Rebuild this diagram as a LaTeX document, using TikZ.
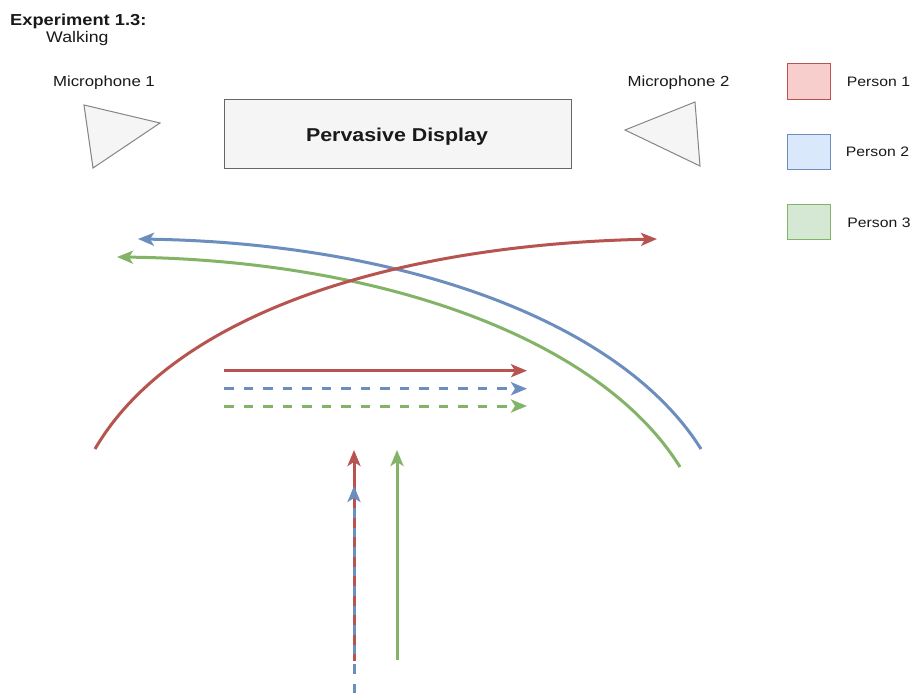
\documentclass[tikz,border=0pt]{standalone}
\usepackage{fontspec}
\setmainfont{Liberation Sans}[FakeStretch=1.15]
\usetikzlibrary{arrows.meta}

\definecolor{pRed}{HTML}{B85450}
\definecolor{pRedFill}{HTML}{F8CECC}
\definecolor{pBlue}{HTML}{6C8EBF}
\definecolor{pBlueFill}{HTML}{DAE8FC}
\definecolor{pGreen}{HTML}{82B366}
\definecolor{pGreenFill}{HTML}{D5E8D4}
\definecolor{devFill}{HTML}{F5F5F5}
\definecolor{devLine}{HTML}{666666}

\tikzset{
  lbl/.style={inner sep=0pt, text=black!90},
  micshape/.style={draw=devLine!80, fill=devFill, line width=1pt, line join=miter},
  legendbox/.style={draw=#1, fill=#1Fill, line width=1pt, minimum width=43pt, minimum height=35pt, inner sep=0pt},
  path arrow/.style={draw=#1, line width=3pt,
    -{Stealth[length=16pt, width=13pt, inset=4pt, fill=#1]}},
  dashline/.style={dash pattern=on 9.5pt off 10pt}
}

\begin{document}
\begin{tikzpicture}[x=1pt, y=-1pt]
\useasboundingbox[fill=white] (0,0) rectangle (913,693);

% heading
\node[lbl, anchor=base west, font=\fontsize{15.9}{18}\selectfont\bfseries] (title) at (10,25.5) {Experiment 1.3:};
\node[lbl, anchor=base west, font=\fontsize{15.4}{18}\selectfont] (sub) at (46,42.7) {Walking};

% pervasive display
\node[draw=devLine, fill=devFill, line width=1pt, minimum width=347pt, minimum height=69pt, inner sep=0pt] (display) at (397.5,133.5) {};
\node[lbl, anchor=base, font=\fontsize{18.6}{22}\selectfont\bfseries] (displaytxt) at (397,141.7) {Pervasive Display};

% microphones
\node[lbl, anchor=base, font=\fontsize{14.6}{17}\selectfont] (mic1) at (104,86.8) {Microphone 1};
\node[lbl, anchor=base, font=\fontsize{14.6}{17}\selectfont] (mic2) at (678.5,86.8) {Microphone 2};
\draw[micshape] (84,105) -- (160,123) -- (93,168) -- cycle;
\draw[micshape] (625,130) -- (695,102) -- (700,166) -- cycle;

% legend
\node[legendbox=pRed] (p1) at (808.5,81.5) {};
\node[legendbox=pBlue] (p2) at (808.5,151.5) {};
\node[legendbox=pGreen] (p3) at (808.5,221.5) {};
\node[lbl, anchor=base, font=\fontsize{13.7}{16}\selectfont] (p1txt) at (878.5,86.8) {Person 1};
\node[lbl, anchor=base, font=\fontsize{13.7}{16}\selectfont] (p2txt) at (877.5,156.7) {Person 2};
\node[lbl, anchor=base, font=\fontsize{13.7}{16}\selectfont] (p3txt) at (879,227) {Person 3};

% walking paths: end points
\coordinate (rA) at (95,449);   \coordinate (rB) at (657,239);
\coordinate (bA) at (701,449);  \coordinate (bB) at (138,239);
\coordinate (gA) at (680,467);  \coordinate (gB) at (117,257);
\coordinate (hs1) at (224,370.7); \coordinate (he1) at (527,370.7);
\coordinate (hs2) at (224,388.7); \coordinate (he2) at (527,388.7);
\coordinate (hs3) at (224,406);   \coordinate (he3) at (527,406);
\coordinate (vr0) at (354,661);   \coordinate (vr1) at (354,450);
\coordinate (vb0) at (354,693);   \coordinate (vb1) at (354,486);
\coordinate (vg0) at (397,660);   \coordinate (vg1) at (397,450);

% curved paths in front of the display
\draw[path arrow=pGreen] (gA) .. controls (600,338) and (380,260) .. (gB);
\draw[path arrow=pBlue] (bA) .. controls (620,320) and (400,243) .. (bB);
\draw[path arrow=pRed] (rA) .. controls (170,320) and (380,245) .. (rB);

% straight paths past the display
\draw[path arrow=pRed] (hs1) -- (he1);
\draw[path arrow=pBlue, dashline] (hs2) -- (he2);
\draw[path arrow=pGreen, dashline] (hs3) -- (he3);

% approaching paths
\draw[path arrow=pRed] (vr0) -- (vr1);
\draw[path arrow=pBlue, dashline] (vb0) -- (vb1);
\draw[path arrow=pGreen] (vg0) -- (vg1);
\end{tikzpicture}
\end{document}
